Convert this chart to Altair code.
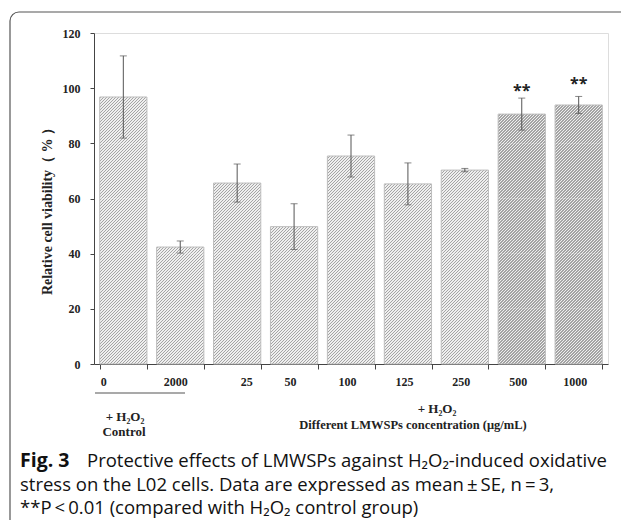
import altair as alt
import pandas as pd

# ---- data ----
categories = ["0", "2000", "25", "50", "100", "125", "250", "500", "1000"]
viability = [96.8, 42.4, 65.6, 49.8, 75.4, 65.3, 70.3, 90.6, 93.9]
std_err = [14.9, 2.2, 6.9, 8.3, 7.6, 7.6, 0.6, 5.8, 3.1]
star_cats = ["500", "1000"]
star_pos = [100.4, 102.9]
y_ticks = [0, 20, 40, 60, 80, 100, 120]

# ---- layout / style ----
W, H = 514, 331
Y_MAX = 120
P_INNER, P_OUTER = 0.17, 0.1
STEP = W / (len(categories) - P_INNER + 2 * P_OUTER)
BW = STEP * (1 - P_INNER)
SEG = 20                                   # hatch drawn in slices of 20 units
P = 3.0                                    # hatch period (px, along x+y)
LIGHT, DARK, FRAC_L = "#efefef", "#a4a4a4", 0.6
SERIF = "Liberation Serif"
SANS = "Open Sans"

df = pd.DataFrame({"cat": categories, "v": viability, "e": std_err})
df["lo"] = df["v"] - df["e"]
df["hi"] = df["v"] + df["e"]
stars = pd.DataFrame({"cat": star_cats, "s": star_pos, "t": ["**", "**"]})

full_rows, part_rows = [], []
for c, v in zip(categories, viability):
    k = 0
    while (k + 1) * SEG <= v:
        full_rows.append({"cat": c, "a": k * SEG, "b": (k + 1) * SEG, "k": k})
        k += 1
    if v - k * SEG > 0:
        part_rows.append({"cat": c, "a": k * SEG, "b": v})
full_df = pd.DataFrame(full_rows)

xscale = alt.Scale(domain=categories, paddingInner=P_INNER, paddingOuter=P_OUTER)
yscale = alt.Scale(domain=[0, Y_MAX], nice=False)

label_shift = {"condition": [
    {"test": "datum.value == '0'", "value": -20},
    {"test": "datum.value == '2000'", "value": -5},
    {"test": "datum.value == '25'", "value": 9},
], "value": -4}

xaxis = alt.Axis(title="", labelAngle=0, labelFont=SERIF, labelFontWeight="bold",
                 labelFontSize=12, labelColor="#222", labelPadding=7,
                 labelOffset=label_shift,
                 tickBand="extent", tickSize=5, tickColor="#444",
                 domainColor="#444", labelFlush=False)
yaxis = alt.Axis(title="", values=y_ticks, labelFont=SERIF, labelFontWeight="bold",
                 labelFontSize=12, labelColor="#222", labelPadding=10,
                 tickSize=4, tickColor="#444", domainColor="#444", grid=False)
xplain = alt.X("cat:N", scale=xscale, sort=categories)


def hatch(h, y0):
    w = BW
    U = w + h
    k = U / (w * w + h * h)
    ph = y0 % P
    stops = []
    u = -ph
    while u < U:
        for s, e, col in ((u, u + FRAC_L * P, LIGHT), (u + FRAC_L * P, u + P, DARK)):
            s2, e2 = max(s, 0.0), min(e, U)
            if e2 > s2:
                stops += [alt.GradientStop(offset=round(s2 / U, 5), color=col),
                          alt.GradientStop(offset=round(e2 / U, 5), color=col)]
        u += P
    return alt.Gradient(gradient="linear", stops=stops, x1=0, y1=0,
                        x2=round(k * w, 5), y2=round(k * h, 5))


base = alt.Chart(df)

slice_layers = []
for kk in sorted(full_df["k"].unique()):
    h = SEG * H / Y_MAX
    y0 = (Y_MAX - (kk + 1) * SEG) * H / Y_MAX
    if kk == 0:
        enc_x = alt.X("cat:N", scale=xscale, sort=categories, axis=xaxis)
        enc_y = alt.Y("a:Q", scale=yscale, axis=yaxis)
    else:
        enc_x = xplain
        enc_y = alt.Y("a:Q", scale=yscale)
    slice_layers.append(
        alt.Chart(full_df[full_df["k"] == kk]).mark_bar(fill=hatch(h, y0), strokeWidth=0).encode(
            x=enc_x, y=enc_y, y2="b:Q"))

for r in part_rows:
    h = (r["b"] - r["a"]) * H / Y_MAX
    y0 = (Y_MAX - r["b"]) * H / Y_MAX
    slice_layers.append(
        alt.Chart(pd.DataFrame([r])).mark_bar(fill=hatch(h, y0), strokeWidth=0).encode(
            x=xplain, y=alt.Y("a:Q", scale=yscale), y2="b:Q"))

outline = base.mark_bar(filled=False, stroke="#bdbdbd", strokeWidth=1).encode(
    x=xplain, y=alt.Y("v:Q", scale=yscale))

err_rule = base.mark_rule(color="#555", strokeWidth=1).encode(
    x=xplain, y=alt.Y("lo:Q", scale=yscale), y2="hi:Q")
cap_lo = base.mark_tick(color="#555", size=7, thickness=1).encode(x=xplain, y=alt.Y("lo:Q", scale=yscale))
cap_hi = base.mark_tick(color="#555", size=7, thickness=1).encode(x=xplain, y=alt.Y("hi:Q", scale=yscale))

star_text = alt.Chart(stars).mark_text(font=SANS, fontSize=16, fontWeight="bold",
                                       color="#222", baseline="middle", dy=4).encode(
    x=xplain, y=alt.Y("s:Q", scale=yscale), text="t:N")

one = pd.DataFrame({"k": [0]})
ann = alt.Chart(one)


def label(txt, x, y, font=SERIF, size=12, weight="bold", align="center", angle=0, color="#222"):
    return ann.mark_text(text=txt, font=font, fontSize=size, fontWeight=weight, align=align,
                         baseline="middle", angle=angle, color=color).encode(
        x=alt.value(x), y=alt.value(y))


border = ann.mark_rect(filled=False, stroke="#555", strokeWidth=1.2, cornerRadius=9).encode(
    x=alt.value(-84), x2=alt.value(545), y=alt.value(-21), y2=alt.value(520))

underline = ann.mark_rule(color="#555", strokeWidth=1.2).encode(
    x=alt.value(1), x2=alt.value(91), y=alt.value(360))

CAP = 18.5
THIN = "\u2009"
texts = [
    label("Relative cell viability（ % ）", -46, 175, size=14, angle=270),
    label("+ H₂O₂", 31, 384, size=13),
    label("Control", 30, 399, size=13),
    label("+ H₂O₂", 343, 376, size=13),
    label("Different LMWSPs concentration  (μg/mL)", 319, 392, size=12.5),
    label("Fig. 3", -74, 428, font=SANS, size=19.5, weight="bold", align="left", color="#111"),
    label("Protective effects of LMWSPs against H₂O₂-induced oxidative", -7, 428,
          font=SANS, size=CAP, weight="normal", align="left", color="#111"),
    label(f"stress on the L02 cells. Data are expressed as mean{THIN}±{THIN}SE, n{THIN}={THIN}3,", -74, 452,
          font=SANS, size=CAP, weight="normal", align="left", color="#111"),
    label(f"**P{THIN}<{THIN}0.01 (compared with H₂O₂ control group)", -74, 475,
          font=SANS, size=CAP, weight="normal", align="left", color="#111"),
]

chart = alt.layer(border, *slice_layers, outline, err_rule, cap_lo, cap_hi, star_text,
                  underline, *texts).properties(
    width=W, height=H,
    autosize=alt.AutoSizeParams(type="none"),
    padding={"left": 86, "top": 25, "right": 13, "bottom": 156},
).configure_view(stroke=None).configure(background="white")

chart.save("out.html", embed_options={"renderer": "svg", "actions": False})
